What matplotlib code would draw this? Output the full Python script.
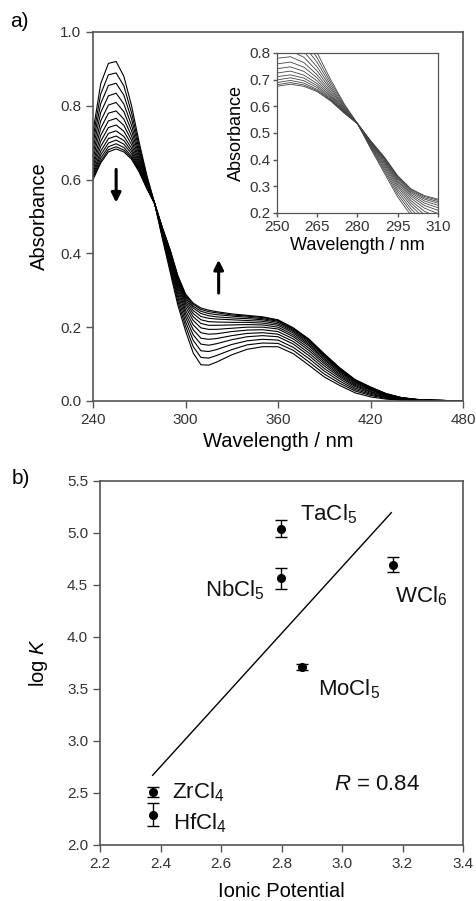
import numpy as np
import matplotlib
matplotlib.use('Agg')
import matplotlib.pyplot as plt

plt.rcParams['font.family'] = ['Liberation Sans', 'DejaVu Sans']
plt.rcParams['mathtext.fontset'] = 'custom'
plt.rcParams['mathtext.rm'] = 'Liberation Sans'
plt.rcParams['mathtext.it'] = 'Liberation Sans:italic'

# --- panel a: UV-vis titration spectra ---
wavelength = [240, 245, 250, 255, 260, 265, 270, 275, 280, 285, 290, 295, 300, 305, 310, 315,
              320, 330, 340, 350, 360, 370, 380, 390, 400, 410, 420, 430, 440, 450, 460, 480]

spectra = [
    [.730, .860, .915, .920, .880, .800, .700, .610, .535, .440, .350, .260, .190, .130, .098, .097,
     .105, .125, .140, .147, .147, .128, .097, .065, .042, .022, .011, .005, .002, .001, .000, 0],
    [.713, .832, .884, .889, .854, .781, .690, .606, .535, .444, .358, .270, .203, .147, .118, .116,
     .123, .139, .152, .157, .156, .137, .106, .073, .048, .027, .015, .007, .003, .001, .000, 0],
    [.698, .806, .855, .861, .829, .764, .680, .601, .535, .448, .365, .280, .215, .164, .136, .134,
     .139, .153, .163, .167, .165, .145, .115, .081, .054, .031, .018, .009, .004, .002, .000, 0],
    [.683, .782, .827, .834, .805, .747, .671, .597, .535, .451, .372, .289, .227, .179, .154, .151,
     .155, .166, .174, .177, .174, .154, .123, .088, .060, .035, .021, .010, .005, .002, .001, 0],
    [.669, .759, .802, .809, .784, .732, .663, .594, .535, .454, .378, .298, .237, .193, .170, .167,
     .169, .177, .183, .185, .181, .161, .130, .095, .065, .039, .024, .012, .005, .002, .001, 0],
    [.657, .739, .780, .786, .764, .718, .655, .590, .535, .457, .384, .305, .246, .206, .185, .181,
     .182, .188, .192, .193, .188, .168, .137, .101, .069, .042, .026, .013, .006, .003, .001, 0],
    [.645, .720, .759, .766, .747, .706, .648, .587, .535, .460, .389, .312, .255, .218, .198, .194,
     .194, .197, .200, .200, .195, .174, .143, .106, .073, .045, .029, .015, .007, .003, .001, 0],
    [.636, .704, .741, .748, .731, .695, .642, .585, .535, .462, .394, .318, .263, .228, .210, .205,
     .205, .206, .207, .206, .200, .179, .149, .111, .077, .048, .031, .016, .007, .003, .001, 0],
    [.627, .690, .725, .732, .717, .685, .637, .582, .535, .464, .398, .323, .269, .237, .220, .215,
     .214, .213, .213, .211, .205, .184, .153, .115, .080, .051, .032, .017, .008, .003, .002, 0],
    [.619, .677, .711, .718, .706, .677, .632, .580, .535, .466, .401, .328, .275, .245, .229, .224,
     .222, .220, .218, .216, .209, .188, .157, .119, .083, .053, .034, .018, .008, .004, .002, 0],
    [.613, .667, .699, .707, .696, .670, .628, .579, .535, .467, .404, .332, .280, .252, .237, .231,
     .228, .225, .223, .220, .213, .191, .161, .122, .085, .054, .035, .019, .008, .004, .002, 0],
    [.608, .658, .689, .697, .687, .663, .625, .577, .535, .468, .407, .335, .284, .257, .243, .237,
     .234, .230, .227, .223, .216, .194, .164, .124, .087, .056, .036, .019, .009, .004, .002, 0],
    [.603, .650, .681, .689, .680, .659, .622, .576, .535, .469, .409, .338, .288, .262, .248, .242,
     .239, .233, .230, .226, .218, .196, .166, .126, .089, .057, .037, .020, .009, .004, .002, 0],
    [.600, .645, .675, .683, .675, .655, .620, .575, .535, .470, .410, .340, .290, .265, .252, .246,
     .242, .236, .232, .228, .220, .198, .168, .128, .090, .058, .038, .020, .009, .004, .002, .000],
]

# --- panel b: log K vs ionic potential ---
salts = ['TaCl$_5$', 'NbCl$_5$', 'WCl$_6$', 'MoCl$_5$', 'ZrCl$_4$', 'HfCl$_4$']
ionic_pot = [2.798, 2.798, 3.167, 2.869, 2.374, 2.374]
log_k = [5.04, 4.565, 4.695, 3.71, 2.51, 2.29]
log_k_err = [0.08, 0.10, 0.07, 0.03, 0.05, 0.11]
fit_x = [2.374, 3.163]
fit_y = [2.67, 5.195]

spine_col = '#555555'
tick_col = '#333333'


def style(ax, lw=1.2):
    for s in ax.spines.values():
        s.set_color(spine_col)
        s.set_linewidth(lw)
    ax.tick_params(direction='out', length=5, width=1.0, color=spine_col,
                   labelcolor=tick_col, labelsize=11, top=False, right=False)


fig = plt.figure(figsize=(4.76, 9.01), dpi=100)

ax1 = fig.add_axes([0.1954, 0.555, 0.7773, 0.4095])
for sp in spectra:
    ax1.plot(wavelength, sp, color='black', lw=0.8)
ax1.set_xlim(240, 480)
ax1.set_ylim(0, 1.0)
ax1.set_xticks([240, 300, 360, 420, 480])
ax1.set_yticks([0.0, 0.2, 0.4, 0.6, 0.8, 1.0])
ax1.yaxis.set_major_formatter(matplotlib.ticker.FormatStrFormatter('%.1f'))
ax1.set_xlabel('Wavelength / nm', fontsize=14.5, labelpad=4)
ax1.set_ylabel('Absorbance', fontsize=14.5, labelpad=8)
style(ax1)
ax1.annotate('', xy=(255, 0.53), xytext=(255, 0.635),
             arrowprops=dict(arrowstyle='-|>', color='black', lw=2.2, mutation_scale=14))
ax1.annotate('', xy=(321.5, 0.39), xytext=(321.5, 0.285),
             arrowprops=dict(arrowstyle='-|>', color='black', lw=2.2, mutation_scale=14))
fig.text(0.022, 0.976, 'a)', fontsize=15, va='center', ha='left')

ax_in = fig.add_axes([0.582, 0.7636, 0.338, 0.1776])
for sp in spectra:
    ax_in.plot(wavelength, sp, color='#444444', lw=0.6)
ax_in.set_xlim(250, 310)
ax_in.set_ylim(0.2, 0.8)
ax_in.set_xticks([250, 265, 280, 295, 310])
ax_in.set_yticks([0.2, 0.3, 0.4, 0.5, 0.6, 0.7, 0.8])
ax_in.set_xlabel('Wavelength / nm', fontsize=13, labelpad=2)
ax_in.set_ylabel('Absorbance', fontsize=13, labelpad=3)
style(ax_in, lw=0.9)
ax_in.tick_params(length=3, labelsize=11, pad=2)

ax2 = fig.add_axes([0.2101, 0.0622, 0.7626, 0.404])
ax2.errorbar(ionic_pot, log_k, yerr=log_k_err, fmt='o', color='black', ms=5.5,
             ecolor='black', elinewidth=1.0, capsize=4, capthick=1.0)
ax2.plot(fit_x, fit_y, color='black', lw=1.0)
ax2.set_xlim(2.2, 3.4)
ax2.set_ylim(2.0, 5.5)
ax2.set_xticks(np.arange(2.2, 3.41, 0.2))
ax2.set_yticks(np.arange(2.0, 5.51, 0.5))
ax2.xaxis.set_major_formatter(matplotlib.ticker.FormatStrFormatter('%.1f'))
ax2.yaxis.set_major_formatter(matplotlib.ticker.FormatStrFormatter('%.1f'))
ax2.set_xlabel('Ionic Potential', fontsize=14.5, labelpad=8)
ax2.set_ylabel('log $K$', fontsize=14.5, labelpad=12)
style(ax2)

label_pos = [(2.86, 5.18, 'left'), (2.745, 4.45, 'right'), (3.175, 4.39, 'left'),
             (2.921, 3.50, 'left'), (2.437, 2.51, 'left'), (2.44, 2.21, 'left')]
for name, (lx, ly, ha) in zip(salts, label_pos):
    ax2.text(lx, ly, name, fontsize=16, ha=ha, va='center', color='#111111')
ax2.text(2.975, 2.58, '$R$ = 0.84', fontsize=16, ha='left', va='center', color='#111111')
fig.text(0.024, 0.469, 'b)', fontsize=15, va='center', ha='left')

fig.savefig('out.png', dpi=100)
